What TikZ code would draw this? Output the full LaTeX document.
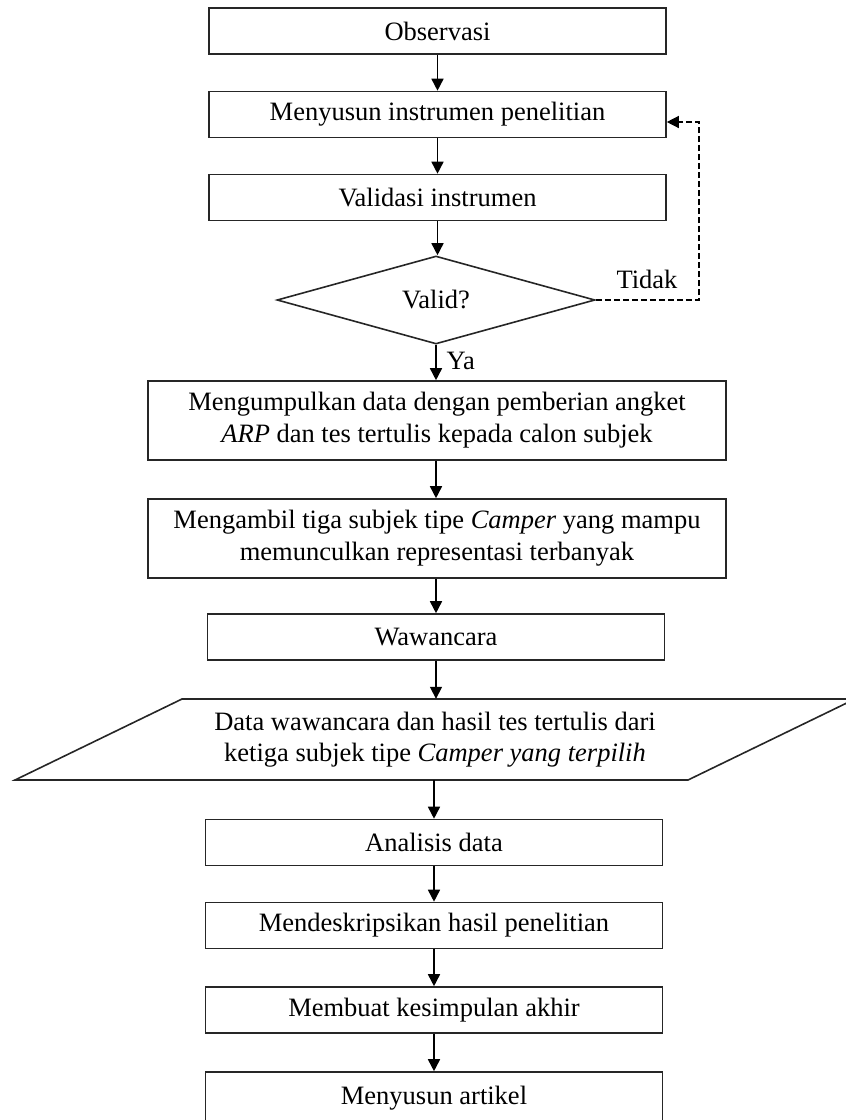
\documentclass[tikz,border=0pt]{standalone}
\usepackage{fontspec}
\setmainfont{Liberation Serif}
\usepackage{tikz}
\usetikzlibrary{positioning}
\usetikzlibrary{arrows.meta}
\usetikzlibrary{shapes.geometric}
\usetikzlibrary{calc}

\begin{document}
\begin{tikzpicture}[
  x=1pt, y=-1pt,
  proc/.style={
    rectangle,
    draw=black!85,
    line width=1.6pt,
    minimum width=457pt,
    minimum height=46pt,
    inner sep=0pt,
    align=center,
    font=\fontsize{26.5}{32}\selectfont
  },
  procwide/.style={
    proc,
    minimum width=578pt,
    minimum height=79pt
  },
  decision/.style={
    diamond,
    draw=black!85,
    line width=1.6pt,
    minimum width=318pt,
    minimum height=88pt,
    inner sep=0pt,
    font=\fontsize{26.5}{32}\selectfont
  },
  lbl/.style={anchor=base, font=\fontsize{26.5}{32}\selectfont},
  arr/.style={-{Triangle[length=12pt,width=12pt]}, line width=1.6pt},
  backarr/.style={arr, dash pattern=on 6pt off 3pt, line width=1.3pt}
]
\useasboundingbox (0,0) rectangle (846,1120);

% ===================== preparation =====================
\node[proc]     (obs)   at (437.5, 31)    {Observasi};
\node[proc]     (ins)   at (437.5, 114.5) {Menyusun instrumen penelitian};
\node[proc]     (val)   at (437.5, 197.5) {Validasi instrumen};
\node[decision] (valid) at (436, 300)     {Valid?};

\draw[arr] (obs) -- (ins);
\draw[arr] (ins) -- (val);
\draw[arr] (val.south) -- (val.south |- valid.north);

% loop back when not valid
\coordinate (back) at (699, 122);
\node[lbl] (tidak) at (647, 288) {Tidak};
\draw[backarr] (valid.east) -- (valid.east -| back) -- (back) -- (ins.east |- back);

% ===================== data collection =====================
\node[procwide] (collect) at (437, 420.5)
  {Mengumpulkan data dengan pemberian angket\\\textit{ARP} dan tes tertulis kepada calon subjek};
\node[procwide] (ambil)   at (437, 538.5)
  {Mengambil tiga subjek tipe \textit{Camper} yang mampu\\memunculkan representasi terbanyak};
\node[proc]     (waw)     at (436, 637)   {Wawancara};

\node[lbl, anchor=base west] (ya) at (443, 369) {Ya};
\draw[arr] (valid.south) -- (valid.south |- collect.north);
\draw[arr] (collect.south -| valid.south) -- (valid.south |- ambil.north);
\draw[arr] (ambil.south -| waw.south) -- (waw.south |- waw.north);

% data (parallelogram)
\node[minimum height=81pt, inner sep=0pt, align=center,
      font=\fontsize{26.5}{31}\selectfont] (data) at (435, 739.5)
  {Data wawancara dan hasil tes tertulis dari\\ketiga subjek tipe \textit{Camper yang terpilih}};
\draw[line width=1.6pt, draw=black!85] (182,699) -- (855,699) -- (688,780) -- (15,780) -- cycle;

\draw[arr] (waw.south) -- (waw.south |- data.north);

% ===================== analysis =====================
\node[proc] (anal)  at (434, 842.5)  {Analisis data};
\node[proc] (desk)  at (434, 925.5)  {Mendeskripsikan hasil penelitian};
\node[proc] (kesim) at (434, 1010)   {Membuat kesimpulan akhir};
\node[proc, minimum height=52pt] (artikel) at (434, 1098) {Menyusun artikel};

\draw[arr] (data.south -| anal.north) -- (anal.north);
\draw[arr] (anal) -- (desk);
\draw[arr] (desk) -- (kesim);
\draw[arr] (kesim) -- (artikel);

\end{tikzpicture}
\end{document}
